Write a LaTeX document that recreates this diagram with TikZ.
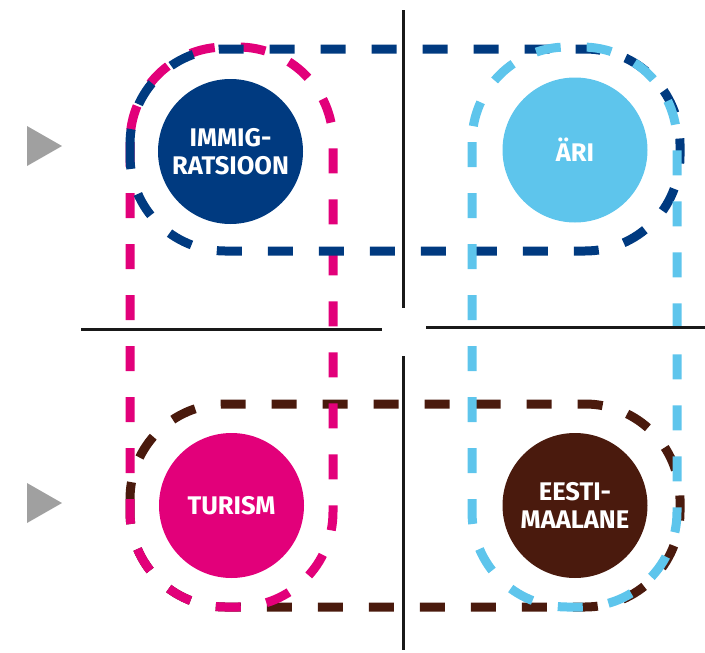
\documentclass[tikz,border=0pt]{standalone}
\usepackage{fontspec}
\setsansfont{Fira Sans}
\usetikzlibrary{positioning}

\definecolor{tumesinine}{HTML}{003A80}
\definecolor{helesinine}{HTML}{5EC5EC}
\definecolor{roosa}{HTML}{E2007A}
\definecolor{pruun}{HTML}{4A1A0D}
\definecolor{hall}{HTML}{A0A0A0}

\tikzset{
    ring/.style={circle, minimum size=145pt, inner sep=0pt, text=white,
        font=\sffamily\bfseries\fontsize{25.5}{28}\selectfont, align=center},
    dashbox/.style={line width=9pt, dash pattern=on 25pt off 26pt, rounded corners=95pt},
    divider/.style={line width=3pt, black!90},
    marker/.style={fill=hall}
}

\begin{document}
\begin{tikzpicture}[x=1pt,y=-1pt]
    \useasboundingbox (0,0) rectangle (705,653);

    \draw[dashbox, pruun] (130,404) rectangle (680,607);
    \draw[dashbox, roosa] (130,47) rectangle (333,607);
    \draw[dashbox, tumesinine] (130,49) rectangle (680,251);
    \draw[dashbox, helesinine] (472,47) rectangle (677,607);

    \draw[divider] (403,10) -- (403,308);
    \draw[divider] (403,356) -- (403,650);
    \draw[divider] (81,329) -- (382,329);
    \draw[divider] (426,327) -- (705,327);

    \node[ring, fill=tumesinine] (imm) at (230.5,151.5) {IMMIG-\\RATSIOON};
    \node[ring, fill=helesinine] (ari) at (575,150) {ÄRI};
    \node[ring, fill=roosa] (tur) at (231.5,505.5) {TURISM};
    \node[ring, fill=pruun] (eesti) at (575,505.5) {EESTI-\\MAALANE};

    \fill[marker] (27,126) -- (62,146) -- (27,166) -- cycle;
    \fill[marker] (27,483) -- (62,503) -- (27,523) -- cycle;
\end{tikzpicture}
\end{document}
